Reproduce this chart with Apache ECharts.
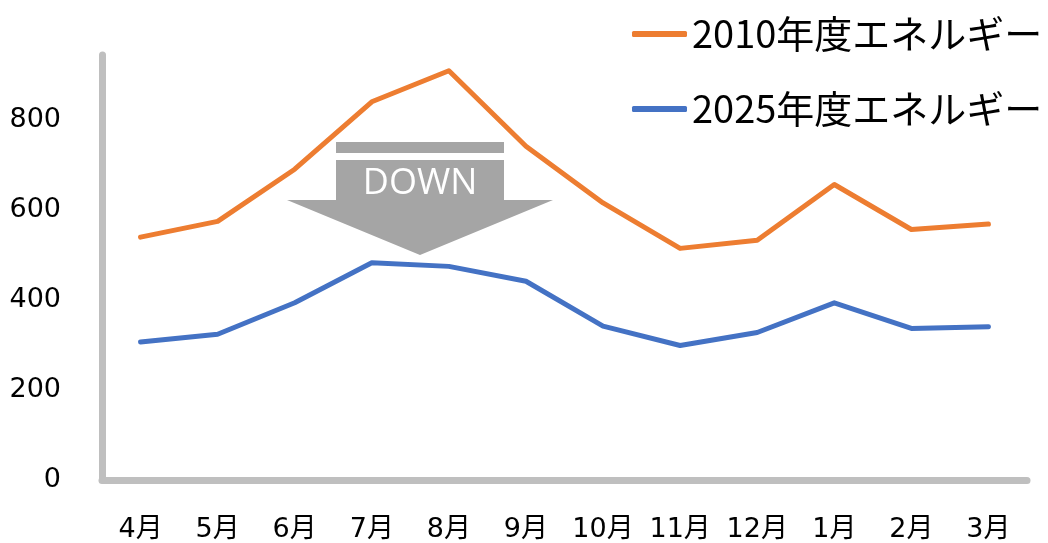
<!DOCTYPE html>
<html>
<head>
<meta charset="utf-8">
<script src="https://cdn.jsdelivr.net/npm/echarts@6/dist/echarts.min.js"></script>
<style>
  html, body { margin: 0; padding: 0; background: #fff; }
  #chart { width: 1048px; height: 543px; }
</style>
</head>
<body>
<div id="chart"></div>
<script>
// Monthly energy use, fiscal year order (April to March)
const months = ['4月', '5月', '6月', '7月', '8月', '9月', '10月', '11月', '12月', '1月', '2月', '3月'];
const energy2010 = [540, 575, 691, 841, 910, 742, 616, 515, 533, 657, 557, 569];
const energy2025 = [307, 324, 394, 483, 475, 442, 342, 299, 328, 394, 337, 341];
const seriesNames = ['2010年度エネルギー', '2025年度エネルギー'];

const axisGray = '#BFBFBF';
const labelFont = "'DejaVu Sans', 'Noto Sans CJK JP', sans-serif";

const chart = echarts.init(document.getElementById('chart'), null, { renderer: 'canvas' });

chart.setOption({
  backgroundColor: '#ffffff',
  animation: false,
  grid: { left: 102, right: 21, top: 55, bottom: 62, containLabel: false },
  legend: {
    orient: 'vertical',
    left: 632,
    top: 15,
    padding: 0,
    itemGap: 37,
    itemWidth: 55,
    itemHeight: 6,
    itemTextGap: 6,
    icon: 'roundRect',
    data: seriesNames,
    textStyle: {
      fontFamily: "'Noto Sans CJK JP', 'Noto Sans', sans-serif",
      fontSize: 38,
      color: '#000'
    }
  },
  xAxis: {
    type: 'category',
    data: months,
    boundaryGap: true,
    offset: 2,
    axisLine: { show: true, lineStyle: { color: axisGray, width: 7 } },
    axisTick: { show: false },
    axisLabel: {
      interval: 0,
      margin: 34,
      fontFamily: labelFont,
      fontSize: 27,
      color: '#000'
    },
    splitLine: { show: false }
  },
  yAxis: {
    type: 'value',
    min: 0,
    max: 945,
    interval: 200,
    axisLine: { show: true, lineStyle: { color: axisGray, width: 7 } },
    axisTick: { show: false },
    splitLine: { show: false },
    axisLabel: {
      margin: 41,
      showMaxLabel: false,
      fontFamily: labelFont,
      fontSize: 27,
      color: '#000'
    }
  },
  series: [
    {
      name: seriesNames[0],
      type: 'line',
      data: energy2010,
      symbol: 'none',
      color: '#ED7D31',
      lineStyle: { width: 5, cap: 'round', join: 'round' }
    },
    {
      name: seriesNames[1],
      type: 'line',
      data: energy2025,
      symbol: 'none',
      color: '#4472C4',
      lineStyle: { width: 5, cap: 'round', join: 'round' }
    }
  ],
  // "DOWN" arrow annotation between the two curves
  graphic: [
    {
      type: 'rect',
      shape: { x: 336, y: 142, width: 168, height: 11 },
      style: { fill: '#A5A5A5' },
      z: 10
    },
    {
      type: 'polygon',
      shape: {
        points: [[336, 160], [504, 160], [504, 200], [553, 200], [420, 255], [287, 200], [336, 200]]
      },
      style: { fill: '#A5A5A5' },
      z: 10
    },
    {
      type: 'text',
      x: 420,
      y: 184,
      style: {
        text: 'DOWN',
        fill: '#ffffff',
        fontFamily: "'Open Sans', 'Noto Sans', sans-serif",
        fontSize: 36,
        align: 'center',
        verticalAlign: 'middle'
      },
      z: 11
    }
  ]
});
</script>
</body>
</html>
